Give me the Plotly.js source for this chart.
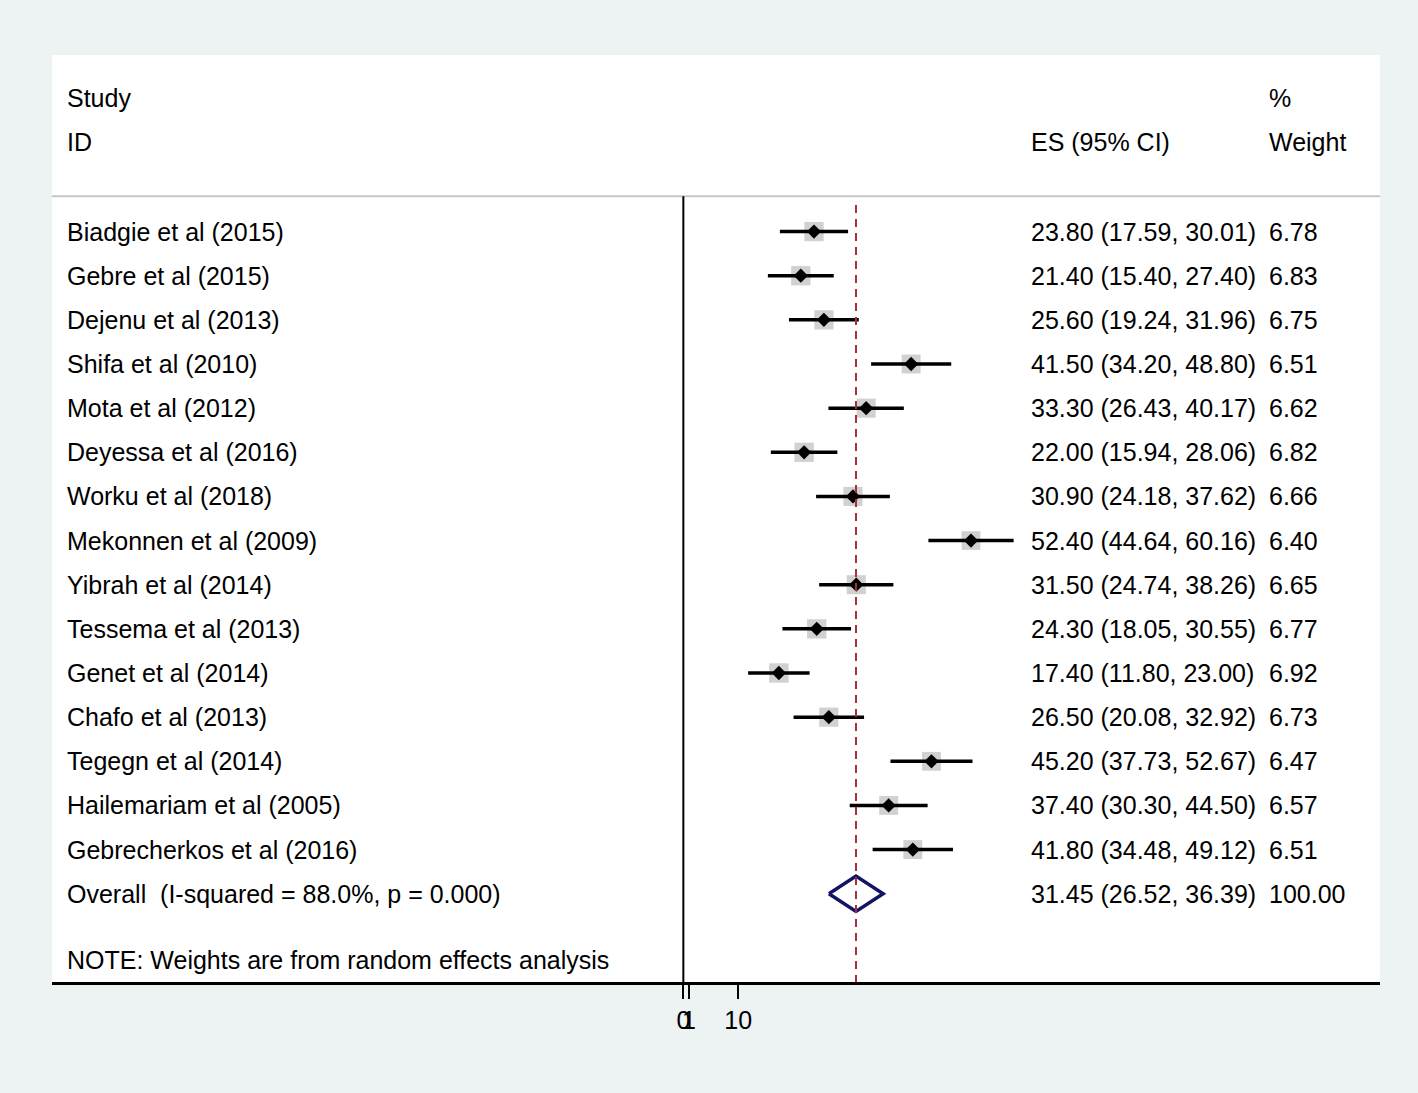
<!DOCTYPE html>
<html>
<head>
<meta charset="utf-8">
<script src="https://cdn.plot.ly/plotly-3.0.1.min.js"></script>
<style>
  html, body { margin: 0; padding: 0; background: #edf2f2; }
  #chart { width: 1418px; height: 1093px; }
</style>
</head>
<body>
<div id="chart"></div>
<script>
// ---- data ----
const studies = [
  "Biadgie et al (2015)", "Gebre et al (2015)", "Dejenu et al (2013)", "Shifa et al (2010)",
  "Mota et al (2012)", "Deyessa et al (2016)", "Worku et al (2018)", "Mekonnen et al (2009)",
  "Yibrah et al (2014)", "Tessema et al (2013)", "Genet et al (2014)", "Chafo et al (2013)",
  "Tegegn et al (2014)", "Hailemariam et al (2005)", "Gebrecherkos et al (2016)"
];
const es      = [23.80, 21.40, 25.60, 41.50, 33.30, 22.00, 30.90, 52.40, 31.50, 24.30, 17.40, 26.50, 45.20, 37.40, 41.80];
const ciLow   = [17.59, 15.40, 19.24, 34.20, 26.43, 15.94, 24.18, 44.64, 24.74, 18.05, 11.80, 20.08, 37.73, 30.30, 34.48];
const ciHigh  = [30.01, 27.40, 31.96, 48.80, 40.17, 28.06, 37.62, 60.16, 38.26, 30.55, 23.00, 32.92, 52.67, 44.50, 49.12];
const weights = [6.78, 6.83, 6.75, 6.51, 6.62, 6.82, 6.66, 6.40, 6.65, 6.77, 6.92, 6.73, 6.47, 6.57, 6.51];
const overallLabel = "Overall  (I-squared = 88.0%, p = 0.000)";
const overallES = 31.45, overallLow = 26.52, overallHigh = 36.39, overallWeight = "100.00";
const noteText = "NOTE: Weights are from random effects analysis";
const tickVals = [0, 1, 10];
const tickText = ["0", "1", "10"];

// ---- layout helpers ----
const rowY = studies.map((_, i) => -i);
const overallY = -studies.length;
const noteY = overallY - 1.5;
const FONT = "Liberation Sans, Arial, Helvetica, sans-serif";
const FS = 25;
const xName = -112.65, xES = 62.95, xW = 106.35;

const fmt = v => v.toFixed(2);

const traces = [];
// weight boxes
traces.push({
  x: es, y: rowY, type: "scatter", mode: "markers", hoverinfo: "skip",
  marker: { symbol: "square", color: "#bdbdbd", size: weights.map(w => 7.4 * Math.sqrt(w)), line: { width: 0 } }
});
// CI lines + point estimate
traces.push({
  x: es, y: rowY, type: "scatter", mode: "markers", hoverinfo: "skip",
  marker: { symbol: "diamond", color: "#000000", size: 11 },
  error_x: {
    type: "data", symmetric: false,
    array: es.map((v, i) => ciHigh[i] - v),
    arrayminus: es.map((v, i) => v - ciLow[i]),
    color: "#000000", thickness: 3.5, width: 0
  }
});
// overall diamond
traces.push({
  x: [overallLow, overallES, overallHigh, overallES, overallLow],
  y: [overallY, overallY + 0.4, overallY, overallY - 0.4, overallY],
  type: "scatter", mode: "lines", hoverinfo: "skip",
  line: { color: "#141466", width: 3.5 }
});

const ann = [];
const addText = (x, y, text) => ann.push({
  x: x, y: y, xref: "x", yref: "y", text: text, showarrow: false,
  xanchor: "left", yanchor: "middle", font: { family: FONT, size: FS, color: "#000" }
});
addText(xName, 3.03, "Study");
addText(xName, 2.03, "ID");
addText(xES, 2.03, "ES (95% CI)");
addText(xW, 3.03, "%");
addText(xW, 2.03, "Weight");
studies.forEach((s, i) => {
  addText(xName, rowY[i], s);
  addText(xES, rowY[i], `${fmt(es[i])} (${fmt(ciLow[i])}, ${fmt(ciHigh[i])})`);
  addText(xW, rowY[i], fmt(weights[i]));
});
addText(xName, overallY, overallLabel.replace(/ /g, "\u00a0"));
addText(xES, overallY, `${fmt(overallES)} (${fmt(overallLow)}, ${fmt(overallHigh)})`);
addText(xW, overallY, overallWeight);
addText(xName, noteY, noteText);

const shapes = [
  // header separator
  { type: "line", xref: "paper", yref: "y", x0: 0, x1: 1, y0: 0.8, y1: 0.8, line: { color: "#c6c6c6", width: 2 } },
  // null line
  { type: "line", xref: "x", yref: "y", x0: 0, x1: 0, y0: 0.8, y1: -17, line: { color: "#000", width: 2 } },
  // overall effect dashed line
  { type: "line", xref: "x", yref: "y", x0: overallES, x1: overallES, y0: 0.6, y1: -17, line: { color: "#a3303c", width: 2, dash: "8px,6px" } }
];

const layout = {
  width: 1418, height: 1093,
  margin: { l: 52, r: 38, t: 55, b: 111 },
  paper_bgcolor: "#edf2f2",
  plot_bgcolor: "#ffffff",
  showlegend: false,
  xaxis: {
    range: [-115.0, 126.9], fixedrange: true, zeroline: false, showgrid: false,
    showline: true, linecolor: "#000", linewidth: 2.5,
    ticks: "outside", ticklen: 14, tickwidth: 2, tickcolor: "#000",
    tickvals: tickVals, ticktext: tickText, tickangle: 0,
    tickfont: { family: FONT, size: FS, color: "#000" }
  },
  yaxis: {
    range: [-17, 4], fixedrange: true, visible: false, zeroline: false, showgrid: false
  },
  annotations: ann,
  shapes: shapes
};

Plotly.newPlot("chart", traces, layout, { displayModeBar: false, staticPlot: true });
</script>
</body>
</html>
